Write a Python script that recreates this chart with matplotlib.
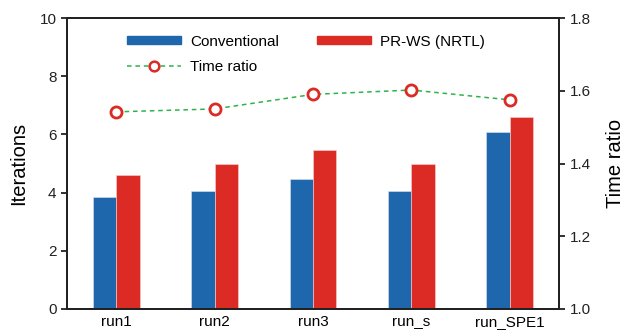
import numpy as np
import matplotlib.pyplot as plt
from matplotlib.patches import Rectangle
from matplotlib.lines import Line2D

plt.rcParams['font.family'] = ['Liberation Sans', 'DejaVu Sans']

runs = ['run1', 'run2', 'run3', 'run_s', 'run_SPE1']
conventional = [3.84, 4.07, 4.46, 4.07, 6.07]
prws_nrtl = [4.59, 4.99, 5.46, 4.99, 6.59]
time_ratio = [1.542, 1.550, 1.590, 1.602, 1.575]

blue = '#1f67ad'
red = '#db2b24'
green = '#2db34a'

fig = plt.figure(figsize=(6.24, 3.34), dpi=100)
ax = fig.add_axes([67/624, 1-309/334, 492/624, 291/334])
x = np.arange(len(runs))
w = 0.237
ax.bar(x - w/2, conventional, w, color=blue, edgecolor='#dde6f0', linewidth=0.4)
ax.bar(x + w/2, prws_nrtl, w, color=red, edgecolor='#f5d5d5', linewidth=0.4)
ax.set_xlim(-0.5, 4.5)
ax.set_ylim(0, 10)
ax.set_yticks([0, 2, 4, 6, 8, 10])
ax.set_xticks(x)
ax.set_xticklabels(runs)
ax.tick_params(axis='x', length=0, labelsize=11, pad=4)
ax.tick_params(axis='y', direction='out', length=4, width=1.3, labelsize=11, colors='#222222')
ax.set_ylabel('Iterations', fontsize=14.5, labelpad=8)
for s in ax.spines.values():
    s.set_linewidth(1.4)
    s.set_color('#222222')

ax2 = ax.twinx()
ax2.plot(x, time_ratio, linestyle=(0, (3, 2.5)), color=green, linewidth=1.1,
         marker='o', markersize=8, markerfacecolor='white',
         markeredgecolor=red, markeredgewidth=2.0, zorder=5)
ax2.set_ylim(1.0, 1.8)
ax2.set_yticks([1.0, 1.2, 1.4, 1.6, 1.8])
ax2.tick_params(axis='y', direction='out', length=4, width=1.3, labelsize=11, colors='#222222')
ax2.set_ylabel('Time ratio', fontsize=14.5, labelpad=11)
for s in ax2.spines.values():
    s.set_linewidth(1.4)
    s.set_color('#222222')

h_conv = Rectangle((0, 0), 1, 1, color=blue)
h_prws = Rectangle((0, 0), 1, 1, color=red)
h_time = Line2D([], [], linestyle=(0, (3, 2.5)), color=green, linewidth=1.1,
                marker='o', markersize=7, markerfacecolor='white',
                markeredgecolor=red, markeredgewidth=1.8)
leg = ax2.legend([h_conv, h_time, h_prws], ['Conventional', 'Time ratio', 'PR-WS (NRTL)'],
                 ncol=2, frameon=False, fontsize=11, loc='upper left',
                 bbox_to_anchor=(0.095, 0.99), handlelength=3.5, handleheight=0.45,
                 columnspacing=2.5, labelspacing=0.75, handletextpad=0.6)

fig.savefig('out.png', dpi=100)
